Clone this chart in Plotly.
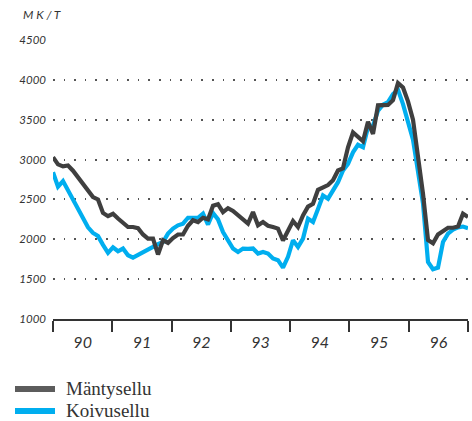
import plotly.graph_objects as go

years = ["90", "91", "92", "93", "94", "95", "96"]
y_ticks = [1000, 1500, 2000, 2500, 3000, 3500, 4000, 4500]

# Monthly prices (MK/T), Jan 1990 .. Dec 1996
mantysellu = [
    3030, 2940, 2915, 2925, 2860, 2780, 2690, 2600, 2530, 2500, 2330, 2290,
    2320, 2260, 2200, 2154, 2154, 2140, 2060, 2009, 2009, 1810, 1988, 1955,
    2015, 2060, 2060, 2170, 2238, 2216, 2270, 2250, 2420, 2440, 2340, 2390,
    2355, 2300, 2240, 2196, 2341, 2175, 2216, 2170, 2154, 2134, 1985, 2100,
    2230, 2154, 2300, 2410, 2446, 2620, 2654, 2680, 2740, 2863, 2890, 3154,
    3340, 3290, 3230, 3475, 3321, 3680, 3680, 3685, 3745, 3960, 3905, 3730,
    3500, 3050, 2571, 1990, 1950, 2060, 2110, 2145, 2145, 2160, 2321, 2280,
]
koivusellu = [
    2841, 2660, 2730, 2613, 2490, 2384, 2270, 2150, 2080, 2040, 1930, 1830,
    1900, 1850, 1884, 1800, 1770, 1800, 1835, 1870, 1904, 1940, 1966, 2071,
    2134, 2175, 2196, 2270, 2270, 2270, 2321, 2185, 2330, 2250, 2091, 1980,
    1884, 1841, 1884, 1880, 1884, 1821, 1841, 1821, 1759, 1738, 1644, 1780,
    1988, 1904, 2009, 2259, 2216, 2380, 2550, 2509, 2610, 2716, 2863, 2946,
    3091, 3185, 3154, 3405, 3425, 3613, 3690, 3720, 3820, 3875, 3696, 3470,
    3250, 2850, 2450, 1716, 1625, 1645, 1966, 2071, 2120, 2150, 2160, 2140,
]

n = len(mantysellu)
span = n - 1
x = list(range(n))
n_years = len(years)
year_w = span / n_years
boundaries = [i * year_w for i in range(n_years + 1)]
mids = [(i + 0.5) * year_w for i in range(n_years)]

DARK = "#3f3f3f"
BLUE = "#00aeef"
TICKFONT = dict(family="Lato", style="italic", color="#333333")

fig = go.Figure()
fig.add_trace(go.Scatter(x=x, y=koivusellu, mode="lines", name="Koivusellu",
                         line=dict(color=BLUE, width=4.2), showlegend=False))
fig.add_trace(go.Scatter(x=x, y=mantysellu, mode="lines", name="Mäntysellu",
                         line=dict(color=DARK, width=4.2), showlegend=False))

fig.update_layout(
    width=472, height=421,
    margin=dict(l=53, r=4, t=40, b=102),
    paper_bgcolor="white", plot_bgcolor="white",
    xaxis=dict(
        range=[0, span], tickvals=mids, ticktext=years, ticks="",
        showgrid=False, zeroline=False, automargin=False,
        showline=True, linecolor="#333333", linewidth=1.5,
        tickfont=dict(size=16, **TICKFONT), ticklabelstandoff=8,
        minor=dict(tickvals=boundaries, ticks="outside", ticklen=11,
                   tickcolor="#333333", tickwidth=1.5, showgrid=False),
    ),
    yaxis=dict(
        range=[1000, 4500], tickvals=y_ticks, ticks="",
        showgrid=True, gridcolor="#555555", gridwidth=1.6,
        griddash="1.6px,9px", zeroline=False, showline=False, automargin=False,
        tickfont=dict(size=11.5, **TICKFONT), ticklabelstandoff=6,
    ),
)

def py(pix):
    return (319 - pix) / 279.0

def px(pix):
    return (pix - 53) / 415.0

fig.add_annotation(text="M K / T", xref="paper", yref="paper",
                   x=px(21), y=py(14), xanchor="left", yanchor="middle",
                   showarrow=False,
                   font=dict(size=12, family="Lato", style="italic", color="#333333"))

legend_items = [("Mäntysellu", "#5c5c5c", 389), ("Koivusellu", BLUE, 411)]
for label, col, ypix in legend_items:
    fig.add_shape(type="line", xref="paper", yref="paper",
                  x0=px(15), x1=px(55), y0=py(ypix), y1=py(ypix),
                  line=dict(color=col, width=6))
    fig.add_annotation(text=label, xref="paper", yref="paper",
                       x=px(64), y=py(ypix - 1), xanchor="left", yanchor="middle",
                       showarrow=False,
                       font=dict(size=19, family="Liberation Serif, Times New Roman, serif",
                                 color="#333333"))

fig.write_html("out.html",
               config={"displayModeBar": False},
               post_script="document.body.style.margin='0';document.body.style.overflow='hidden';")
